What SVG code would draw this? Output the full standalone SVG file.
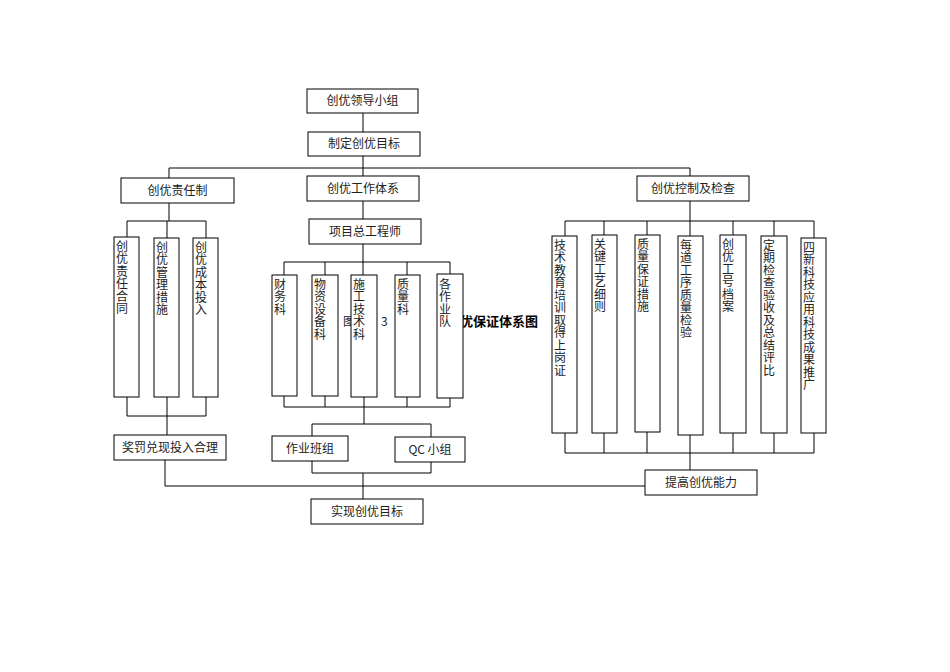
<svg xmlns="http://www.w3.org/2000/svg" width="950" height="672" viewBox="0 0 950 672">
<style>
rect{fill:#fff;stroke:#000;stroke-width:1}
text{font-family:"Noto Sans CJK SC",sans-serif;font-size:12px;fill:#222}
.c{text-anchor:middle}
.v{writing-mode:vertical-rl;glyph-orientation-vertical:0;letter-spacing:0.5px}
.l{fill:none;stroke:#000;stroke-width:1}
.t{font-family:"Noto Sans CJK SC",sans-serif;font-weight:bold;font-size:13px;fill:#000}
</style>
<rect width="950" height="672" style="fill:#fff;stroke:none"/>
<g id="title">
<text x="343" y="326">图</text><text x="381" y="326">3</text>
<text class="t" x="447" y="326">创优保证体系图</text>
</g>
<g id="connectors" class="l">
<path class="l" d="M363 113V132M363 156V176M169 168H690M169 168V178M690 168V176"/>
<path class="l" d="M169 203V221M127 221H206M127 221V237M167 221V238M206 221V238M127 397V416H206V397M167 397V435M165 460V486H645"/>
<path class="l" d="M363 201V219M363 244V262M284 262H450M284 262V275M325 262V275M363 262V275M407 262V275M450 262V274M284 396V407H450V398M325 396V407M364 397V424M407 397V407M312 424H431M312 424V436M431 424V437M312 461V473H431V462M363 473V499"/>
<path class="l" d="M690 201V221M565 221H814M565 221V236M604 221V235M647 221V235M690 221V236M733 221V235M774 221V236M814 221V238M565 433V453H814V433M604 433V453M647 432V453M690 435V470M733 433V453M774 433V453"/>
</g>
<g id="n1"><rect x="307" y="89" width="111" height="24"/><text class="c" x="362.5" y="105">创优领导小组</text></g>
<g id="n2"><rect x="308" y="132" width="112" height="24"/><text class="c" x="364" y="148">制定创优目标</text></g>
<g id="n3"><rect x="121" y="178" width="113" height="25"/><text class="c" x="177.5" y="195">创优责任制</text></g>
<g id="n4"><rect x="307" y="176" width="112" height="25"/><text class="c" x="363" y="193">创优工作体系</text></g>
<g id="n5"><rect x="637" y="176" width="112" height="25"/><text class="c" x="693" y="193">创优控制及检查</text></g>
<g id="n6"><rect x="114" y="237" width="25" height="160"/><text class="v" x="122" y="240">创优责任合同</text></g>
<g id="n7"><rect x="154" y="238" width="25" height="159"/><text class="v" x="162" y="241">创优管理措施</text></g>
<g id="n8"><rect x="193" y="238" width="25" height="159"/><text class="v" x="201" y="241">创优成本投入</text></g>
<g id="n9"><rect x="114" y="435" width="112" height="25"/><text class="c" x="170" y="452">奖罚兑现投入合理</text></g>
<g id="n10"><rect x="309" y="219" width="112" height="25"/><text class="c" x="365" y="236">项目总工程师</text></g>
<g id="n11"><rect x="272" y="275" width="25" height="121"/><text class="v" x="280" y="278">财务科</text></g>
<g id="n12"><rect x="312" y="275" width="26" height="121"/><text class="v" x="320" y="278">物资设备科</text></g>
<g id="n13"><rect x="351" y="275" width="26" height="122"/><text class="v" x="359" y="278">施工技术科</text></g>
<g id="n14"><rect x="395" y="275" width="25" height="122"/><text class="v" x="403" y="278">质量科</text></g>
<g id="n15"><rect x="437" y="274" width="26" height="124"/><text class="v" x="445" y="278">各作业队</text></g>
<g id="n16"><rect x="272" y="436" width="76" height="25"/><text class="c" x="310" y="453">作业班组</text></g>
<g id="n17"><rect x="395" y="437" width="70" height="25"/><text class="c" x="430" y="454">QC 小组</text></g>
<g id="n18"><rect x="311" y="499" width="112" height="25"/><text class="c" x="367" y="516">实现创优目标</text></g>
<g id="n19"><rect x="552" y="236" width="25" height="197"/><text class="v" x="560" y="239">技术教育培训取得上岗证</text></g>
<g id="n20"><rect x="592" y="235" width="25" height="198"/><text class="v" x="600" y="238">关键工艺细则</text></g>
<g id="n21"><rect x="635" y="235" width="25" height="197"/><text class="v" x="643" y="238">质量保证措施</text></g>
<g id="n22"><rect x="678" y="236" width="25" height="199"/><text class="v" x="686" y="239">每道工序质量检验</text></g>
<g id="n23"><rect x="720" y="235" width="26" height="198"/><text class="v" x="728" y="238">创优工号档案</text></g>
<g id="n24"><rect x="761" y="236" width="26" height="197"/><text class="v" x="769" y="239">定期检查验收及总结评比</text></g>
<g id="n25"><rect x="801" y="238" width="25" height="195"/><text class="v" x="809" y="241">四新科技应用科技成果推广</text></g>
<g id="n26"><rect x="645" y="470" width="112" height="25"/><text class="c" x="701" y="487">提高创优能力</text></g>
</svg>
